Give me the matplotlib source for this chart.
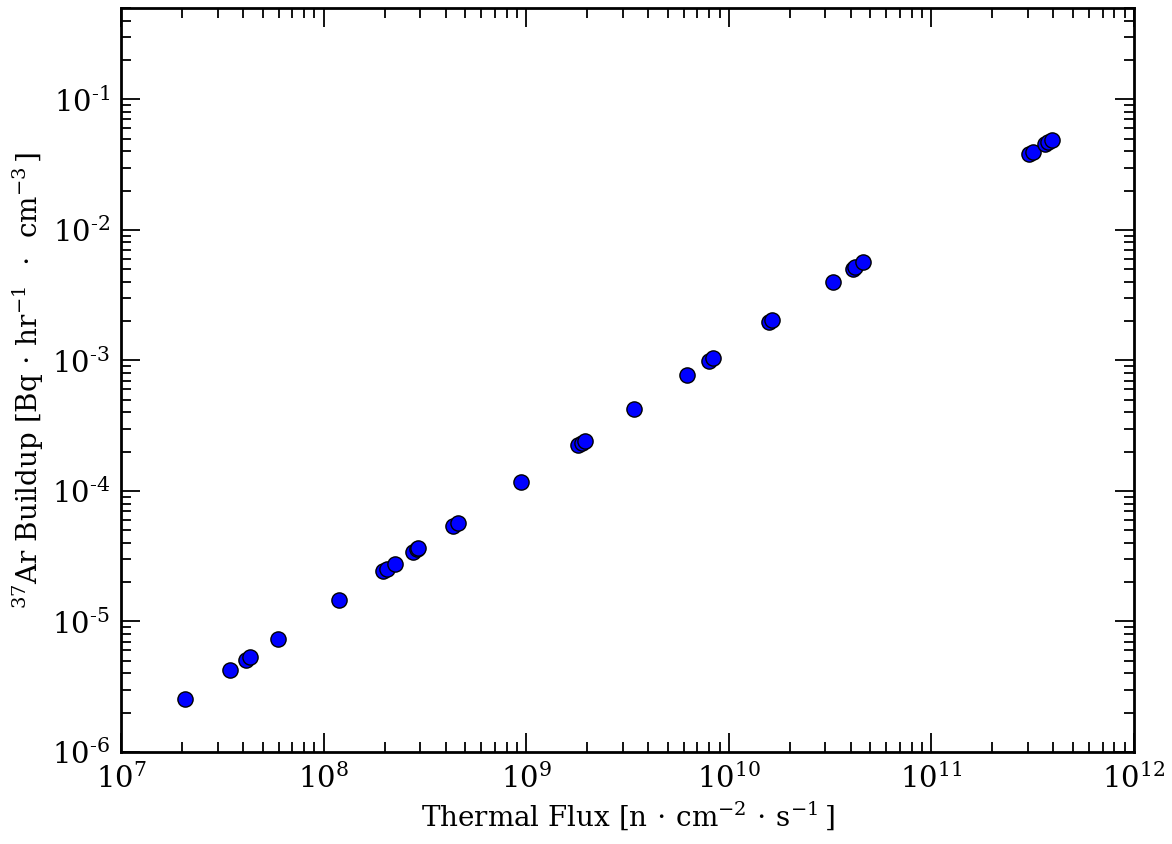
import numpy as np
import matplotlib
matplotlib.use("Agg")
import matplotlib.pyplot as plt
from matplotlib.ticker import FuncFormatter, LogLocator

# thermal flux [n/cm2/s] and 37Ar buildup [Bq/hr/cm3]
flux = [2.07e7, 3.45e7, 4.14e7, 4.34e7, 5.96e7, 1.19e8, 1.96e8, 2.06e8, 2.25e8,
        2.76e8, 2.89e8, 2.92e8, 4.35e8, 4.60e8, 9.42e8, 1.80e9, 1.88e9, 1.95e9,
        3.40e9, 6.22e9, 7.98e9, 8.35e9, 1.58e10, 1.63e10, 3.27e10, 4.10e10,
        4.20e10, 4.59e10, 3.03e11, 3.17e11, 3.64e11, 3.76e11, 3.94e11]
buildup = [2.55e-6, 4.25e-6, 5.06e-6, 5.33e-6, 7.33e-6, 1.46e-5, 2.43e-5, 2.52e-5,
           2.75e-5, 3.40e-5, 3.58e-5, 3.65e-5, 5.37e-5, 5.66e-5, 1.17e-4, 2.24e-4,
           2.32e-4, 2.40e-4, 4.22e-4, 7.71e-4, 9.86e-4, 1.04e-3, 1.96e-3, 2.03e-3,
           3.97e-3, 4.99e-3, 5.17e-3, 5.65e-3, 3.79e-2, 3.93e-2, 4.52e-2, 4.69e-2,
           4.85e-2]

plt.rcParams['font.family'] = ['DejaVu Serif']
plt.rcParams['mathtext.fontset'] = 'dejavuserif'
plt.rcParams['font.size'] = 20

fig = plt.figure(figsize=(11.72, 8.44), dpi=100)
ax = fig.add_axes([0.1032, 0.109, 0.8644, 0.8815])

ax.scatter(flux, buildup, s=120, c='#0000ff', edgecolors='black', linewidths=1, zorder=3)

ax.set_xscale('log')
ax.set_yscale('log')
ax.set_xlim(1e7, 1e12)
ax.set_ylim(1e-6, 0.5)

def powfmt(v, pos):
    e = int(round(np.log10(v)))
    return r'$10^{\text{%d}}$' % e

for axis in (ax.xaxis, ax.yaxis):
    axis.set_major_locator(LogLocator(base=10))
    axis.set_minor_locator(LogLocator(base=10, subs=np.arange(2, 10)))
    axis.set_major_formatter(FuncFormatter(powfmt))

ax.tick_params(which='both', direction='in', top=True, right=True, width=1.3)
ax.tick_params(which='major', length=14, labelsize=21, pad=8)
ax.tick_params(which='minor', length=7)
for sp in ax.spines.values():
    sp.set_linewidth(2)

ax.set_xlabel(r'Thermal Flux [n$\,\cdot\,$cm$^{-2}$$\,\cdot\,$s$^{-1}\,$]', fontsize=20, labelpad=4)
ax.set_ylabel(r'$^{37}$Ar Buildup [Bq$\,\cdot\,$hr$^{-1}$ $\,\cdot\,$ cm$^{-3}\,$]', fontsize=20, labelpad=4)

fig.savefig('out.png', dpi=100)
